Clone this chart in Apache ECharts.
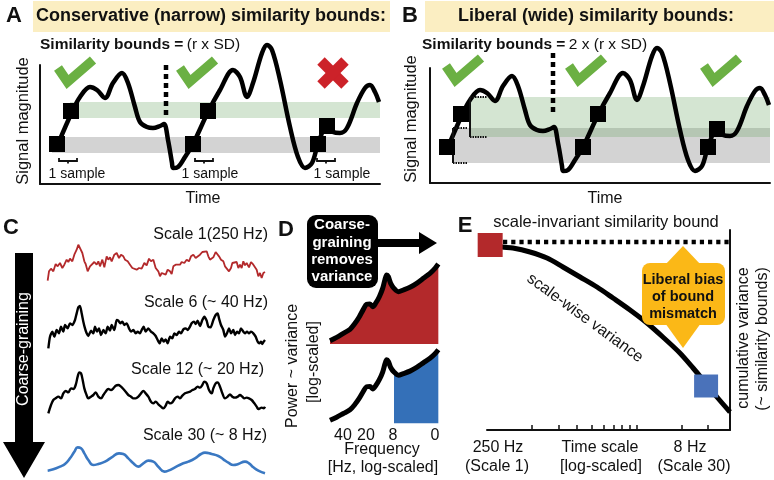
<!DOCTYPE html>
<html><head><meta charset="utf-8">
<script src="https://cdn.jsdelivr.net/npm/echarts@6/dist/echarts.min.js"></script>
<style>html,body{margin:0;padding:0;background:#fff}#c{width:774px;height:480px}</style>
</head><body><div id="c"></div>
<script>
const FONT = '"Liberation Sans", Arial, Helvetica, sans-serif';

// ---------- Panels A & B: schematic signal (time units, magnitude units) ----------
const signalT = [18,32,40,50,57,65,73,82,88,95,100,107,113,120,124,128,132,133,138,145,153,168,180,193,200,207,213,222,227,232,240,250,258,265,272,278,287,293,300,307,317,325,330,335,339];
const signalV = [40,72,87,97,94,86,101,111,101,77,62,57,56,58,60,44,21,16,17,27,40,72,94,114,107,87,101,131,139,134,104,57,27,16,21,40,58,52,51,56,81,96,99,92,82];
const sampleT = [17,31,153,168,278,287];
const sampleV = [40,73,40,73,40,58];
// similarity bands: [tStart, tEnd, low, high]
const narrowGreen = [30,340,66,82];
const narrowGray  = [12,340,31,47];
const wideGreen   = [40,340,50,90];
const wideGray    = [23,340,24,59];
const oneSampleSpans = [[19,37],[155,173],[277,295]];

// ---------- Panel C: coarse-grained traces [time, depth] ----------
const scale1Trace = [[8,128],[12,100],[18,92],[25,100],[32,78],[38,85],[45,75],[52,90],[58,80],[65,65],[70,72],[75,62],[82,70],[88,50],[95,35],[100,20],[106,25],[112,45],[118,70],[122,78],[128,100],[135,85],[140,90],[148,72],[155,80],[160,70],[165,85],[172,65],[178,88],[185,55],[190,65],[195,58],[200,70],[208,50],[215,45],[222,60],[228,50],[235,55],[240,65],[248,70],[255,80],[262,90],[268,85],[275,95],[282,90],[290,92],[298,75],[305,82],[312,62],[318,70],[325,65],[332,90],[340,100],[345,115],[350,105],[356,100],[362,110],[368,95],[375,100],[380,108],[385,85],[392,80],[398,75],[405,80],[410,72],[418,75],[425,65],[432,70],[438,55],[445,50],[452,60],[458,55],[465,50],[472,42],[478,48],[485,40],[490,55],[495,65],[500,70],[505,58],[512,42],[518,40],[522,55],[528,65],[535,70],[540,85],[545,80],[552,100],[558,90],[562,75],[568,80],[575,72],[580,90],[585,80],[590,90],[595,70],[600,82],[605,75],[612,88],[618,72],[625,80],[630,75],[635,95],[640,115],[645,105],[650,120],[655,105],[660,102]];
const scale6Trace = [[10,145],[15,110],[22,95],[28,110],[35,90],[42,100],[48,80],[55,95],[60,75],[68,85],[75,70],[82,75],[90,60],[95,40],[100,22],[105,18],[110,40],[115,65],[120,85],[125,100],[130,108],[138,92],[145,100],[150,80],[156,95],[162,85],[168,105],[175,90],[182,100],[188,80],[195,92],[200,75],[208,90],[215,60],[220,62],[226,70],[232,65],[238,75],[245,70],[252,85],[258,95],[265,90],[272,100],[278,95],[285,100],[290,90],[296,80],[302,95],[310,85],[318,95],[325,100],[332,108],[338,120],[344,130],[350,115],[356,125],[362,118],[368,130],[375,110],[382,115],[388,100],[395,105],[402,95],[408,100],[415,88],[422,85],[428,90],[435,80],[440,70],[447,65],[452,72],[458,62],[465,78],[472,60],[478,50],[485,62],[490,80],[497,82],[505,60],[512,45],[518,40],[522,55],[528,75],[535,90],[540,110],[546,100],[552,85],[558,100],[565,90],[570,105],[576,95],[582,100],[588,85],[595,95],[600,100],[606,95],[612,100],[618,95],[625,100],[632,110],[638,125],[643,130],[648,125],[652,132],[656,125],[660,120]];
const scale12Trace = [[10,145],[18,120],[25,105],[32,100],[40,95],[48,100],[55,85],[62,78],[70,82],[78,70],[85,72],[92,60],[98,35],[103,22],[108,25],[113,45],[118,70],[124,88],[130,100],[138,95],[145,90],[152,82],[160,95],[168,100],[175,90],[182,80],[190,72],[198,75],[205,70],[212,62],[220,60],[228,65],[235,72],[242,80],[250,90],[258,95],[265,100],[272,100],[280,95],[288,85],[295,78],[302,85],[310,95],[318,110],[325,115],[332,110],[340,118],[348,125],[355,130],[362,122],[368,110],[375,115],[382,112],[390,100],[398,95],[405,100],[412,92],[420,85],[428,82],[435,80],[442,75],[450,72],[458,65],[465,68],[472,60],[478,50],[485,55],[492,75],[500,85],[505,70],[512,55],[518,52],[525,65],[532,85],[540,100],[548,95],[555,88],[562,95],[570,98],[578,95],[585,90],[592,95],[598,100],[605,98],[612,100],[620,105],[628,115],[635,125],[640,132],[645,130],[650,128],[656,130],[660,125]];
const scale30Trace = [[8,92],[25,88],[45,80],[60,72],[75,55],[88,35],[98,22],[108,25],[118,40],[130,60],[145,75],[160,72],[180,65],[200,52],[222,40],[235,42],[250,55],[265,70],[280,80],[295,70],[310,62],[325,65],[340,80],[358,95],[370,92],[390,82],[410,72],[430,65],[450,55],[468,42],[480,38],[500,42],[520,48],[535,58],[550,68],[565,75],[580,72],[600,65],[612,70],[625,82],[640,92],[660,100]];
const scaleLabels = ['Scale 1(250 Hz)','Scale 6 (~ 40 Hz)','Scale 12 (~ 20 Hz)','Scale 30 (~ 8 Hz)'];

// ---------- Panel D: power spectrum (log-freq position, log power) ----------
const dPos   = [30,50,70,90,105,118,130,140,150,158,168,178,188,195,200,205,212,222,235,250,270,290,310,330,345,355];
const dPower = [10,20,32,44,62,82,104,119,120,112,124,142,167,194,207,202,182,167,157,162,170,182,197,212,227,240];
const dKeepFrom = 222;           // 8 Hz cut position
const dFreqPos = [69,138,219,345];
const dFreqLabels = ['40','20','8','0'];

// ---------- Panel E: variance vs time scale ----------
const eScale = [1.05,1.26,1.49,1.94,2.52,3.22,4.19,5.44,6.96,9.05,11.75,15.0,19.5,23.9,27.9,34.5,42.2];
const eVar   = [92.5,91.5,91,89,86,81.5,76.5,71.5,66,60,53.5,46.5,38.5,31,25,16.5,9];
const eBound = 94;
const eStart = [1.05,92.5];
const eEnd   = [29.2,22];
const eTicks = [2,3,4,5,6,7,8,9,10,20,30];
const eTickLabels = ['250 Hz\n(Scale 1)','8 Hz\n(Scale 30)'];

const RED = '#b3292b', BLUE = '#3470b8', GREEN = '#6bb043';

function zip(a,b){return a.map((v,i)=>[v,b[i]]);}
function hiddenAxis(grid, extra){return Object.assign({gridIndex:grid, show:false}, extra||{});}
function T(x,y,text,size,o){o=o||{};return {type:'text',x:x,y:y,rotation:o.rot||0,z:o.z||50,
  style:{text:text,fill:o.color||'#111',fontSize:size,fontWeight:o.bold?'bold':'normal',fontFamily:FONT,
  align:o.align||'center',verticalAlign:'middle',textAlign:o.align||'center',textVerticalAlign:'middle',lineHeight:o.lh||undefined}};}
function PL(points,color,w,o){o=o||{};return {type:'polyline',z:o.z||40,shape:{points:points},style:{stroke:color,lineWidth:w,fill:null,lineCap:o.cap||'butt',lineJoin:o.join||'miter',lineDash:o.dash||null}};}

const signal = zip(signalT, signalV);
const samples = zip(sampleT, sampleV);

function band(b, color){return [{coord:[b[0],b[2]],itemStyle:{color:color}},{coord:[b[1],b[3]]}];}

const axisLineStyle = {show:true,lineStyle:{color:'#111',width:2}};

const grids = [
  {left:40,top:65,width:340,height:119},    // 0 A
  {left:430,top:68,width:340,height:115},   // 1 B
  {left:45,top:238,width:225,height:48},    // 2 C scale 1
  {left:45,top:300,width:225,height:50},    // 3 C scale 6
  {left:45,top:365,width:225,height:52},    // 4 C scale 12
  {left:45,top:440,width:225,height:40},    // 5 C scale 30
  {left:320,top:260.7,width:125,height:83.3}, // 6 D top
  {left:320,top:346.6,width:125,height:76.7}, // 7 D bottom
  {left:487,top:230,width:243,height:200}   // 8 E
];
const abX = g => ({gridIndex:g,type:'value',min:0,max:340,axisLine:Object.assign({onZero:false},axisLineStyle),axisTick:{show:false},axisLabel:{show:false},splitLine:{show:false}});
const abY = (g,mn,mx) => ({gridIndex:g,type:'value',min:mn,max:mx,axisLine:axisLineStyle,axisTick:{show:false},axisLabel:{show:false},splitLine:{show:false}});

const xAxes = [
  abX(0), abX(1),
  hiddenAxis(2,{type:'value',min:0,max:675}), hiddenAxis(3,{type:'value',min:0,max:675}),
  hiddenAxis(4,{type:'value',min:0,max:675}), hiddenAxis(5,{type:'value',min:0,max:675}),
  hiddenAxis(6,{type:'value',min:0,max:375}),
  {gridIndex:7,type:'value',min:0,max:375,axisLine:{show:false},axisTick:{show:false},splitLine:{show:false},
    axisLabel:{show:true,customValues:dFreqPos,margin:4,color:'#111',fontSize:16,fontFamily:FONT,
      formatter:v=>{const i=dFreqPos.indexOf(v);return i>=0?dFreqLabels[i]:'';}}},
  {gridIndex:8,type:'log',logBase:10,min:1,max:42.2,axisLine:Object.assign({onZero:false},axisLineStyle),
    axisTick:{show:true,inside:true,length:5,customValues:eTicks,lineStyle:{color:'#111',width:1.5}},
    axisLabel:{show:false},splitLine:{show:false},minorTick:{show:false}}
];
const yAxes = [
  abY(0,0,119), abY(1,4,119),
  hiddenAxis(2,{type:'value',min:0,max:144,inverse:true}),
  hiddenAxis(3,{type:'value',min:0,max:150,inverse:true}),
  hiddenAxis(4,{type:'value',min:0,max:156,inverse:true}),
  hiddenAxis(5,{type:'value',min:0,max:120,inverse:true}),
  hiddenAxis(6,{type:'value',min:0,max:250}),
  hiddenAxis(7,{type:'value',min:0,max:250}),
  {gridIndex:8,type:'value',min:0,max:100,position:'right',axisLine:axisLineStyle,axisTick:{show:false},axisLabel:{show:false},splitLine:{show:false}}
];

const bracketLines = oneSampleSpans.map(s=>({coords:[[s[0],26],[s[0],23],[s[1],23],[s[1],26]]}));
const bracketMid = oneSampleSpans.map(s=>({coords:[[(s[0]+s[1])/2,23],[(s[0]+s[1])/2,20.5]]}));
const solid = c => ({color:c,opacity:1});

const series = [
  // A
  {type:'line',xAxisIndex:0,yAxisIndex:0,data:[],z:1,silent:true,
    markArea:{silent:true,label:{show:false},data:[band(narrowGray,'#d3d3d3'),band(narrowGreen,'rgba(112,168,105,0.3)')]}},
  {type:'line',xAxisIndex:0,yAxisIndex:0,data:signal,smooth:0.35,symbol:'none',clip:false,z:3,lineStyle:{color:'#000',width:4.5}},
  {type:'scatter',xAxisIndex:0,yAxisIndex:0,data:samples,symbol:'rect',symbolSize:16,itemStyle:solid('#000'),z:5,clip:false},
  {type:'lines',coordinateSystem:'cartesian2d',xAxisIndex:0,yAxisIndex:0,polyline:true,data:bracketLines.concat(bracketMid),lineStyle:{color:'#111',width:1.8,opacity:1},z:4},
  // B
  {type:'line',xAxisIndex:1,yAxisIndex:1,data:[],z:1,silent:true,
    markArea:{silent:true,label:{show:false},data:[band(wideGray,'#d3d3d3'),band(wideGreen,'rgba(112,168,105,0.3)')]}},
  {type:'line',xAxisIndex:1,yAxisIndex:1,data:signal,smooth:0.35,symbol:'none',clip:false,z:3,lineStyle:{color:'#000',width:4.5}},
  {type:'scatter',xAxisIndex:1,yAxisIndex:1,data:samples,symbol:'rect',symbolSize:16,itemStyle:solid('#000'),z:5,clip:false},
  {type:'lines',coordinateSystem:'cartesian2d',xAxisIndex:1,yAxisIndex:1,polyline:true,z:4,lineStyle:{color:'#111',width:2,opacity:1},
    data:[{coords:[[wideGray[0],wideGray[2]],[wideGray[0],wideGray[3]]]},{coords:[[wideGreen[0],wideGreen[2]],[wideGreen[0],wideGreen[3]]]}]},
  {type:'lines',coordinateSystem:'cartesian2d',xAxisIndex:1,yAxisIndex:1,polyline:true,z:4,lineStyle:{color:'#111',width:2,type:[1.5,1],opacity:1},
    data:[{coords:[[wideGray[0],wideGray[2]],[wideGray[0]+15,wideGray[2]]]},{coords:[[wideGray[0],wideGray[3]],[wideGray[0]+15,wideGray[3]]]},
          {coords:[[wideGreen[0],wideGreen[2]],[wideGreen[0]+17,wideGreen[2]]]},{coords:[[wideGreen[0],wideGreen[3]],[wideGreen[0]+17,wideGreen[3]]]}]},
  // C
  {type:'line',xAxisIndex:2,yAxisIndex:2,data:scale1Trace,symbol:'none',clip:false,lineStyle:{color:RED,width:1.8}},
  {type:'line',xAxisIndex:3,yAxisIndex:3,data:scale6Trace,symbol:'none',clip:false,smooth:0.2,lineStyle:{color:'#000',width:2.4}},
  {type:'line',xAxisIndex:4,yAxisIndex:4,data:scale12Trace,symbol:'none',clip:false,smooth:0.35,lineStyle:{color:'#000',width:2.4}},
  {type:'line',xAxisIndex:5,yAxisIndex:5,data:scale30Trace,symbol:'none',clip:false,smooth:0.5,lineStyle:{color:'#3a78c2',width:2.6}},
  // D
  {type:'line',xAxisIndex:6,yAxisIndex:6,data:zip(dPos,dPower),symbol:'none',smooth:0.3,clip:false,
    areaStyle:{color:RED,opacity:1},lineStyle:{color:'#000',width:5},z:3},
  {type:'line',xAxisIndex:7,yAxisIndex:7,data:zip(dPos,dPower).filter(p=>p[0]>=dKeepFrom),symbol:'none',smooth:0.3,clip:false,
    areaStyle:{color:BLUE,opacity:1},lineStyle:{width:0},z:2},
  {type:'line',xAxisIndex:7,yAxisIndex:7,data:zip(dPos,dPower),symbol:'none',smooth:0.3,clip:false,
    lineStyle:{color:'#000',width:5},z:3},
  // E
  {type:'line',xAxisIndex:8,yAxisIndex:8,data:[[1.28,eBound],[42.2,eBound]],symbol:'none',clip:false,
    lineStyle:{color:'#000',width:4.5,type:[4.2,4]},z:3},
  {type:'line',xAxisIndex:8,yAxisIndex:8,data:zip(eScale,eVar),symbol:'none',smooth:0.3,clip:false,
    lineStyle:{color:'#000',width:5},z:3},
  {type:'scatter',xAxisIndex:8,yAxisIndex:8,data:[eStart],symbol:'rect',symbolSize:[25,24],itemStyle:solid(RED),z:5,clip:false},
  {type:'scatter',xAxisIndex:8,yAxisIndex:8,data:[eEnd],symbol:'rect',symbolSize:[24,23],itemStyle:solid('#4a72ba'),z:5,clip:false}
];

function check(x,y,color){return PL([[x,y],[x+9.5,y+14],[x+35,y-8]],color,9.5);}
const boundsRich = (pre) => ({type:'text',x:0,y:0,z:50,style:{text:'{b|Similarity bounds =} {n|'+pre+'}',fill:'#111',
  align:'left',verticalAlign:'middle',textAlign:'left',textVerticalAlign:'middle',
  rich:{b:{fontWeight:'bold',fontSize:15.5,fontFamily:FONT,fill:'#111'},n:{fontSize:15.5,fontFamily:FONT,fill:'#111'}}}});
const bA = boundsRich('(r x SD)'); bA.x=40; bA.y=45;
const bB = boundsRich('2 x (r x SD)'); bB.x=422; bB.y=45;

const elements = [
  {type:'rect',z:1,shape:{x:33,y:1,width:357,height:31},style:{fill:'#fbeec2'}},
  {type:'rect',z:1,shape:{x:425,y:1,width:349,height:31},style:{fill:'#fbeec2'}},
  T(211,16,'Conservative (narrow) similarity bounds:',18,{bold:true}),
  T(596,16,'Liberal (wide) similarity bounds:',18,{bold:true}),
  T(14,16,'A',22,{bold:true}), T(410,16,'B',22,{bold:true}),
  T(11,228,'C',22,{bold:true}), T(286,230,'D',22,{bold:true}), T(465,226,'E',22,{bold:true}),
  bA, bB,
  check(58,68,GREEN), check(180,68,GREEN),
  PL([[321,61],[345,85]],'#cc2229',10.5), PL([[345,61],[321,85]],'#cc2229',10.5),
  check(446,66,GREEN), check(569,66,GREEN), check(704,66,GREEN),
  PL([[166,65],[166,116]],'#000',4.5,{dash:[5,4]}),
  PL([[553,53],[553,114]],'#000',4.5,{dash:[5,4]}),
  T(77,174,'1 sample',14), T(210,174,'1 sample',14), T(342,174,'1 sample',14),
  T(23,121,'Signal magnitude',16.5,{rot:Math.PI/2}), T(411,119,'Signal magnitude',16.5,{rot:Math.PI/2}),
  T(203,199,'Time',16), T(605,199,'Time',16),
  // C
  {type:'polygon',z:10,shape:{points:[[15,253],[33,253],[33,442],[45,442],[24,478],[3,442],[15,442]]},style:{fill:'#000'}},
  T(24,349,'Coarse-graining',16,{rot:Math.PI/2,color:'#fff'}),
  T(268,235,scaleLabels[0],16,{align:'right'}), T(268,302.5,scaleLabels[1],16,{align:'right'}),
  T(264,369.5,scaleLabels[2],16,{align:'right'}), T(267,436,scaleLabels[3],16,{align:'right'}),
  // D
  {type:'rect',z:10,shape:{x:307,y:215,width:71,height:73,r:9},style:{fill:'#000'}},
  T(342,225,'Coarse-',15,{bold:true,color:'#fff'}), T(342,242.5,'graining',15,{bold:true,color:'#fff'}),
  T(342,260,'removes',15,{bold:true,color:'#fff'}), T(342,277,'variance',15,{bold:true,color:'#fff'}),
  {type:'polygon',z:10,shape:{points:[[377,239],[419,239],[419,232],[437,243],[419,254],[419,247],[377,247]]},style:{fill:'#000'}},
  T(293,366,'Power ~ variance',16,{rot:Math.PI/2}), T(314,362,'[log-scaled]',16,{rot:Math.PI/2}),
  T(382,450,'Frequency',16), T(383,468,'[Hz, log-scaled]',16),
  // E
  T(606,222,'scale-invariant similarity bound',16.5),
  {type:'polygon',z:10,shape:{points:[[665,265],[683,246],[701,265]]},style:{fill:'#fbb817'}},
  {type:'polygon',z:10,shape:{points:[[665,323],[683,348],[701,323]]},style:{fill:'#fbb817'}},
  {type:'rect',z:10,shape:{x:642,y:263,width:83,height:62,r:8},style:{fill:'#fbb817'}},
  T(683,280,'Liberal bias',14.5,{bold:true,z:60}), T(683,297,'of bound',14.5,{bold:true,z:60}), T(683,314,'mismatch',14.5,{bold:true,z:60}),
  T(585,318,'scale-wise variance',16,{rot:-0.63}),
  T(498,448,eTickLabels[0].split('\n')[0],16), T(497,467,eTickLabels[0].split('\n')[1],16),
  T(600,448,'Time scale',16), T(601,467,'[log-scaled]',16),
  T(690,448,eTickLabels[1].split('\n')[0],16), T(694,467,eTickLabels[1].split('\n')[1],16),
  T(744,338,'cumulative variance',16,{rot:Math.PI/2}), T(763,339,'(~ similarity bounds)',16,{rot:Math.PI/2})
];

const chart = echarts.init(document.getElementById('c'), null, {renderer:'canvas'});
chart.setOption({animation:false,backgroundColor:'#fff',grid:grids,xAxis:xAxes,yAxis:yAxes,series:series,graphic:{elements:elements}});
</script></body></html>
